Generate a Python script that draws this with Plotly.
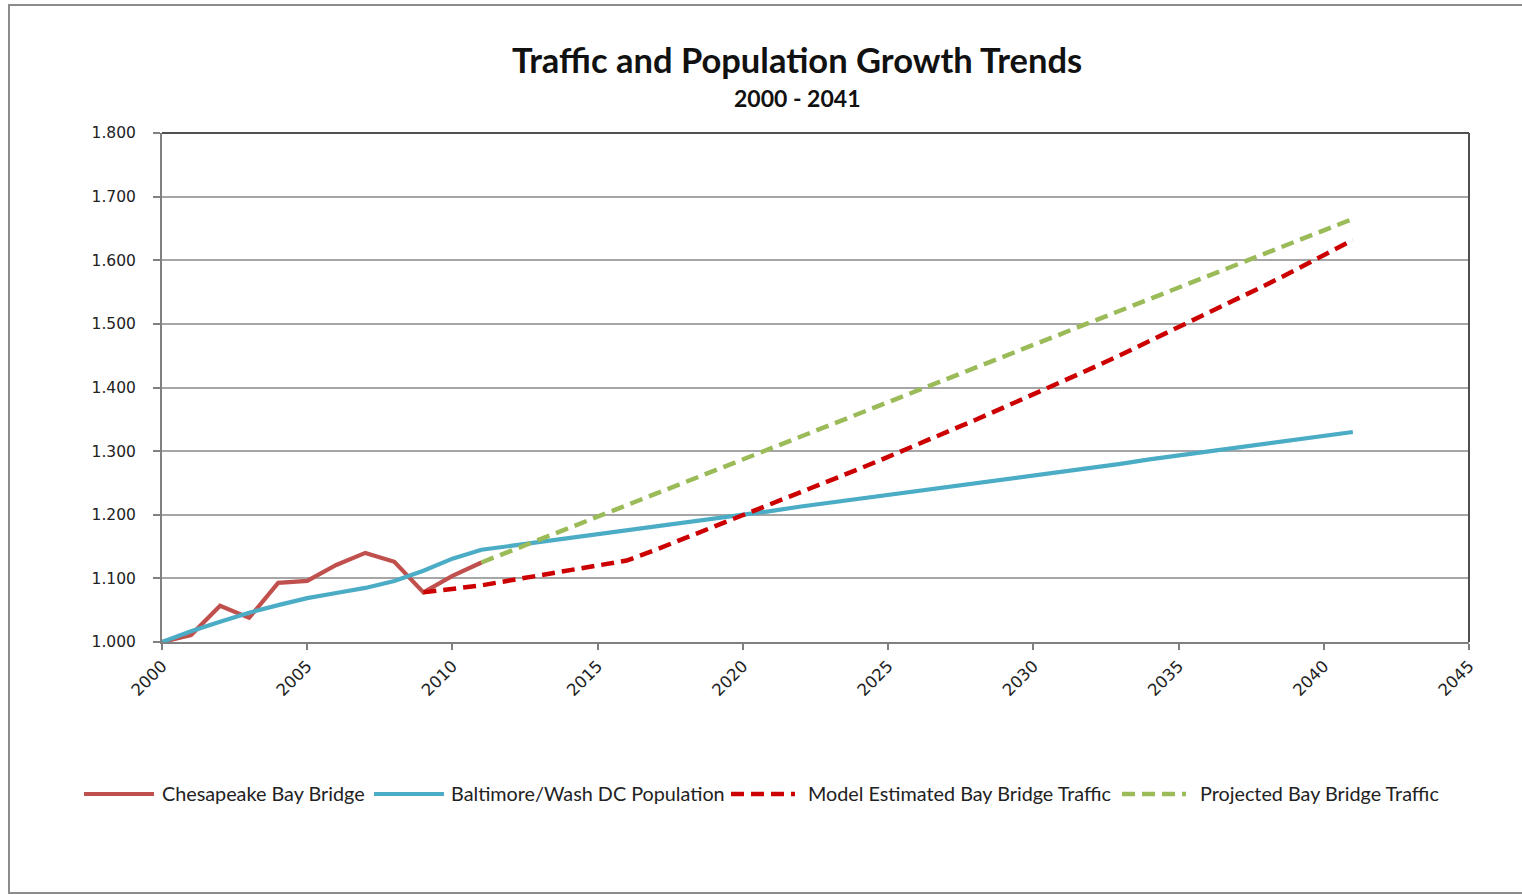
import plotly.graph_objects as go

# Chesapeake Bay Bridge observed traffic index (2000 = 1.000)
bridge_years = list(range(2000, 2012))
bridge_vals = [1.000, 1.011, 1.057, 1.038, 1.093, 1.096, 1.121, 1.140, 1.126, 1.078, 1.104, 1.125]

# Baltimore / Washington DC population index
pop_years = list(range(2000, 2042))
pop_vals = [1.000, 1.017, 1.032, 1.046, 1.058, 1.069, 1.077, 1.085, 1.096, 1.112, 1.131,
            1.145, 1.151, 1.157, 1.164, 1.170, 1.176, 1.182, 1.188, 1.194, 1.200,
            1.206, 1.213, 1.219, 1.225, 1.231, 1.237, 1.243, 1.250, 1.256, 1.262,
            1.268, 1.274, 1.280, 1.287, 1.293, 1.299, 1.305, 1.311, 1.318, 1.324, 1.330]

# Model estimated Bay Bridge traffic
model_years = list(range(2009, 2042))
model_vals = [1.078, 1.084, 1.089, 1.097, 1.105, 1.112, 1.120, 1.128, 1.145, 1.163, 1.181,
              1.200, 1.218, 1.235, 1.253, 1.272, 1.291, 1.310, 1.329, 1.349, 1.369,
              1.389, 1.409, 1.430, 1.451, 1.473, 1.494, 1.516, 1.539, 1.561, 1.584,
              1.608, 1.632]

# Projected Bay Bridge traffic
proj_years = list(range(2011, 2042))
proj_vals = [1.125, 1.143, 1.161, 1.179, 1.197, 1.215, 1.233, 1.251, 1.269, 1.287,
             1.305, 1.323, 1.341, 1.359, 1.377, 1.395, 1.413, 1.431, 1.449, 1.467,
             1.485, 1.503, 1.521, 1.539, 1.557, 1.575, 1.593, 1.611, 1.629, 1.647, 1.665]

x_ticks = [2000, 2005, 2010, 2015, 2020, 2025, 2030, 2035, 2040, 2045]
y_ticks = [1.0, 1.1, 1.2, 1.3, 1.4, 1.5, 1.6, 1.7, 1.8]

series = [
    ("Chesapeake Bay Bridge", bridge_years, bridge_vals, "#C0504D", 4.2, "solid"),
    ("Baltimore/Wash DC Population", pop_years, pop_vals, "#4BACC6", 4.2, "solid"),
    ("Model Estimated Bay Bridge Traffic", model_years, model_vals, "#CC0000", 4.5, "13px,7px"),
    ("Projected Bay Bridge Traffic", proj_years, proj_vals, "#9BBB59", 4.5, "13px,7px"),
]

fig = go.Figure()
for name, xs, ys, color, width, dash in series:
    fig.add_trace(go.Scatter(x=xs, y=ys, mode="lines", name=name,
                             line=dict(color=color, width=width, dash=dash)))

L, R, T, B = 162, 53, 133, 253
W, H = 1522, 895
pw, ph = W - L - R, H - T - B


def px_x(p):
    return (p - L) / pw


def px_y(p):
    return (H - B - p) / ph


# single-row key below the chart: (line start, line end, text start) in pixels
key_pos = [(84, 154, 160), (374, 444, 449), (731, 795, 806), (1122, 1186, 1198)]
key_y = 794

shapes = [
    # outer chart frame
    dict(type="rect", xref="paper", yref="paper",
         x0=px_x(9), x1=px_x(1530), y0=px_y(893), y1=px_y(5),
         line=dict(color="#8C8C8C", width=2), fillcolor="rgba(0,0,0,0)", layer="below"),
    # plot area top and right edges
    dict(type="line", xref="paper", yref="paper", x0=0, x1=1, y0=1, y1=1,
         line=dict(color="#505050", width=2)),
    dict(type="line", xref="paper", yref="paper", x0=1, x1=1, y0=0, y1=1,
         line=dict(color="#505050", width=2)),
]
annotations = [
    dict(text="<b>Traffic and Population Growth Trends</b>", xref="paper", yref="paper",
         x=px_x(797), y=px_y(60), xanchor="center", yanchor="middle", showarrow=False,
         font=dict(family="Lato", size=34.5, color="#111")),
    dict(text="<b>2000 - 2041</b>", xref="paper", yref="paper",
         x=px_x(797), y=px_y(98), xanchor="center", yanchor="middle", showarrow=False,
         font=dict(family="Lato", size=23, color="#111")),
]
for (name, _, _, color, width, dash), (x0, x1, xt) in zip(series, key_pos):
    shapes.append(dict(type="line", xref="paper", yref="paper",
                       x0=px_x(x0), x1=px_x(x1), y0=px_y(key_y), y1=px_y(key_y),
                       line=dict(color=color, width=width, dash=dash)))
    annotations.append(dict(text=name, xref="paper", yref="paper",
                            x=px_x(xt), y=px_y(key_y - 1), xanchor="left", yanchor="middle",
                            showarrow=False,
                            font=dict(family="Lato", size=19.8, color="#222")))

fig.update_layout(
    width=W, height=H,
    margin=dict(l=L, r=R, t=T, b=B),
    paper_bgcolor="white", plot_bgcolor="white",
    showlegend=False,
    xaxis=dict(range=[2000, 2045], tickvals=x_ticks, tickangle=-45,
               ticks="outside", ticklen=6, tickcolor="#808080", tickwidth=1.5,
               showgrid=False, zeroline=False,
               showline=True, linecolor="#808080", linewidth=2, mirror=False,
               tickfont=dict(family="DejaVu Sans", size=16.5, color="#222")),
    yaxis=dict(range=[1.0, 1.8], tickvals=y_ticks, tickformat=".3f",
               ticks="outside", ticklen=7, tickcolor="#808080", tickwidth=1.5,
               showgrid=True, gridcolor="#A6A6A6", gridwidth=1.5, zeroline=False,
               showline=True, linecolor="#808080", linewidth=2, mirror=False,
               ticklabelstandoff=14,
               tickfont=dict(family="DejaVu Sans", size=15.5, color="#222")),
    annotations=annotations,
    shapes=shapes,
)

fig.write_html("out.html")
